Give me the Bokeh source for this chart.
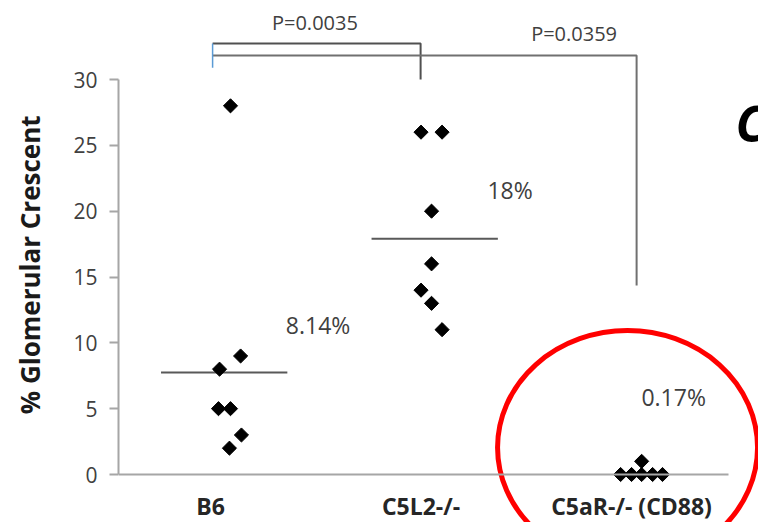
import numpy as np
from bokeh.plotting import figure
from bokeh.models import ColumnDataSource, LinearAxis, FixedTicker, Range1d, Label
from bokeh.embed import file_html
from bokeh.resources import INLINE

# ---------------- data ----------------
categories = ["B6", "C5L2-/-", "C5aR-/- (CD88)"]
b6_values = [28, 9, 8, 5, 5, 3, 2]
c5l2_values = [26, 26, 20, 16, 14, 13, 11]
c5ar_values = [0, 0, 0, 0, 0, 1]
# horizontal jitter of each point (category units), as in the original dot plot
b6_jitter = [0.095, 0.143, 0.043, 0.038, 0.095, 0.147, 0.09]
c5l2_jitter = [0.0, 0.1, 0.05, 0.05, 0.0, 0.05, 0.1]
c5ar_jitter = [-0.052, 0.0, 0.048, 0.1, 0.147, 0.048]
mean_lines = [7.75, 17.9]
mean_labels = ["8.14%", "18%", "0.17%"]
p_labels = ["P=0.0035", "P=0.0359"]
y_ticks = [0, 5, 10, 15, 20, 25, 30]

FONT = "Open Sans"
TXT = "#404040"
AX = "#a6a6a6"

p = figure(width=758, height=522,
           x_range=Range1d(-0.437, 2.603), y_range=Range1d(-3.645, 36.0),
           x_axis_type=None, y_axis_type=None,
           output_backend="svg", toolbar_location=None,
           min_border=0, min_border_left=118)
p.outline_line_color = None
p.background_fill_color = "white"

# y axis
yaxis = LinearAxis(ticker=FixedTicker(ticks=y_ticks), bounds=(0, 30),
                   axis_label="% Glomerular  Crescent")
yaxis.axis_line_color = AX
yaxis.axis_line_width = 2
yaxis.major_tick_line_color = AX
yaxis.major_tick_line_width = 2
yaxis.major_tick_out = 9
yaxis.major_tick_in = 0
yaxis.minor_tick_line_color = None
yaxis.major_label_text_font = FONT
yaxis.major_label_text_font_size = "21px"
yaxis.major_label_text_color = TXT
yaxis.major_label_standoff = 12
yaxis.axis_label_text_font = FONT
yaxis.axis_label_text_font_style = "bold"
yaxis.axis_label_text_font_size = "26px"
yaxis.axis_label_text_color = "#1a1a1a"
yaxis.axis_label_standoff = 22
p.add_layout(yaxis, "left")

# x axis (category positions 0,1,2), drawn at y = 0
xaxis = LinearAxis(ticker=FixedTicker(ticks=[0, 1, 2]), fixed_location=0,
                   bounds=(-0.475, 2.46),
                   major_label_overrides={i: c for i, c in enumerate(categories)})
xaxis.axis_line_color = AX
xaxis.axis_line_width = 2
xaxis.major_tick_line_color = None
xaxis.minor_tick_line_color = None
xaxis.major_label_text_font = FONT
xaxis.major_label_text_font_style = "bold"
xaxis.major_label_text_font_size = "23px"
xaxis.major_label_text_color = "#262626"
xaxis.major_label_standoff = 9
p.add_layout(xaxis, "below")

# significance brackets
lvl_a, lvl_b = 32.73, 31.82
p.line(x=[0.01, 0.998, 0.998], y=[lvl_a, lvl_a, 30.0], line_color="#505050", line_width=2)
p.line(x=[0.01, 2.024, 2.024], y=[lvl_b, lvl_b, 14.35], line_color="#707070", line_width=2)
p.line(x=[0.01, 0.01], y=[30.9, lvl_a], line_color="#5b9bd5", line_width=1.5)

# mean lines
mx = np.arange(len(mean_lines)) + 0.065
p.segment(x0=mx - 0.3, x1=mx + 0.3, y0=mean_lines, y1=mean_lines,
          line_color="#595959", line_width=2)

# points
xs, ys = [], []
for i, (vals, jit) in enumerate([(b6_values, b6_jitter), (c5l2_values, c5l2_jitter),
                                 (c5ar_values, c5ar_jitter)]):
    xs += [i + j for j in jit]
    ys += vals
src = ColumnDataSource(dict(x=xs, y=ys))
p.scatter("x", "y", source=src, marker="square", angle=np.pi / 4, size=10,
          fill_color="black", line_color="black", line_width=1)

# labels
for (lx, ly), t in zip([(0.511, 11.32), (1.423, 21.57), (2.2, 5.85)], mean_labels):
    p.add_layout(Label(x=lx, y=ly, text=t, text_font=FONT, text_font_size="23px",
                       text_color=TXT, text_align="center", text_baseline="middle"))
for (lx, ly), t in zip([(0.496, 34.33), (1.727, 33.5)], p_labels):
    p.add_layout(Label(x=lx, y=ly, text=t, text_font=FONT, text_font_size="20px",
                       text_color=TXT, text_align="center", text_baseline="middle"))

p.add_layout(Label(x=2.494, y=26.66, text="C", text_font=FONT, text_font_size="50px",
                   text_font_style="bold italic", text_color="black",
                   text_baseline="alphabetic"))

# red highlight ellipse
p.ellipse(x=[1.981], y=[2.05], width=260, height=234, width_units="screen",
          height_units="screen", fill_color=None, line_color="#ff0000", line_width=5)

open("out.html", "w").write(file_html(p, INLINE))
